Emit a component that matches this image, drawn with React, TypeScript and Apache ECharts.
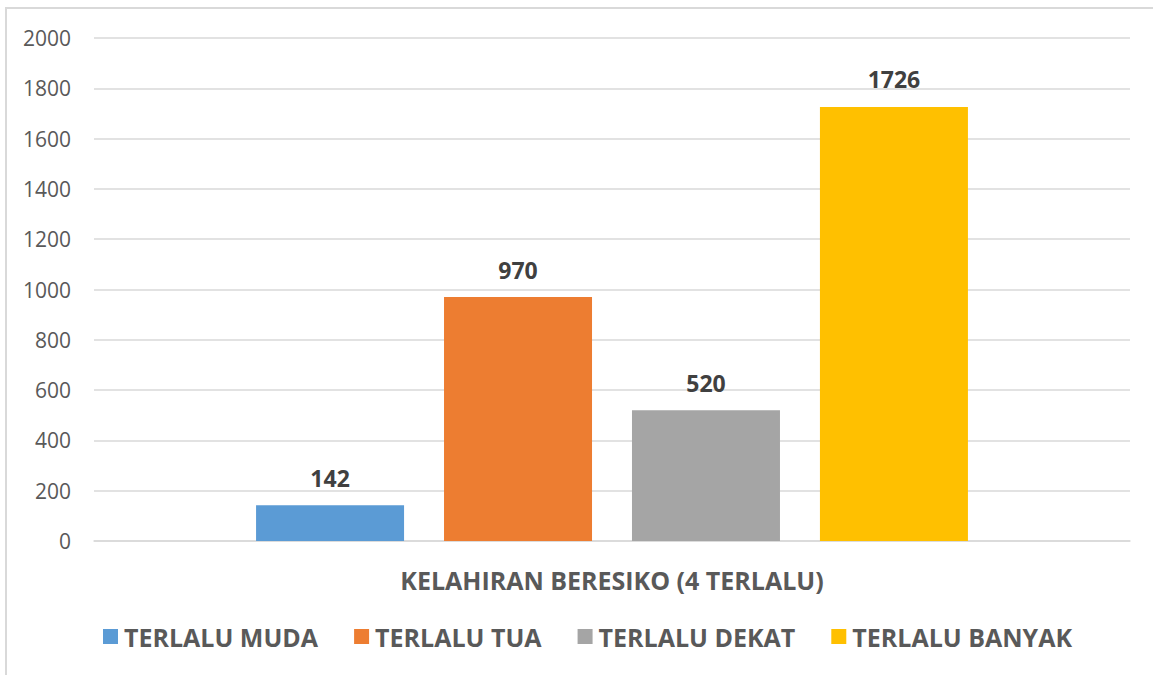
import React, { useEffect, useRef } from "react";
import * as echarts from "echarts";

const categories = ["KELAHIRAN BERESIKO (4 TERLALU)"];
const seriesNames = ["TERLALU MUDA", "TERLALU TUA", "TERLALU DEKAT", "TERLALU BANYAK"];
const seriesValues = [[142], [970], [520], [1726]];
const seriesColors = ["#5B9BD5", "#ED7D31", "#A5A5A5", "#FFC000"];
const yTicks = { min: 0, max: 2000, interval: 200 };

const FONT = "'Open Sans', 'Noto Sans', sans-serif";

export default function App() {
  const ref = useRef<HTMLDivElement>(null);
  useEffect(() => {
    if (!ref.current) return;
    const chart = echarts.init(ref.current, null, { renderer: "svg" });
    chart.setOption({
      animation: false,
      backgroundColor: "#ffffff",
      textStyle: { fontFamily: FONT },
      graphic: [
        {
          type: "rect",
          shape: { x: 6, y: 8, width: 1200, height: 700 },
          style: { fill: "none", stroke: "#D9D9D9", lineWidth: 2 },
          silent: true,
          z: -1,
        },
      ],
      grid: { left: 94, right: 23, top: 38, bottom: 134, containLabel: false },
      legend: {
        left: 103,
        top: 624,
        padding: 0,
        icon: "rect",
        itemWidth: 15,
        itemHeight: 15,
        itemGap: 36,
        data: seriesNames,
        textStyle: { color: "#595959", fontSize: 25, fontWeight: "bold", fontFamily: FONT, padding: [0, 0, 0, 1] },
      },
      xAxis: {
        type: "category",
        data: categories,
        axisLine: { show: true, lineStyle: { color: "#D9D9D9", width: 1.5 } },
        axisTick: { show: false },
        axisLabel: { color: "#595959", fontSize: 25, fontWeight: "bold", margin: 26, fontFamily: FONT },
      },
      yAxis: {
        type: "value",
        min: yTicks.min,
        max: yTicks.max,
        interval: yTicks.interval,
        axisLine: { show: false },
        axisTick: { show: false },
        splitLine: { lineStyle: { color: "#D9D9D9", width: 1.5 } },
        axisLabel: {
          color: "#595959",
          fontSize: 21,
          margin: 23,
          fontFamily: FONT,
          formatter: (v: number) => String(v),
        },
      },
      series: seriesNames.map((name, i) => ({
        name,
        type: "bar",
        data: seriesValues[i],
        barWidth: 148,
        barGap: "27%",
        itemStyle: { color: seriesColors[i] },
        label: {
          show: true,
          position: "top",
          distance: 16,
          color: "#404040",
          fontSize: 23,
          fontWeight: "bold",
          fontFamily: FONT,
        },
      })),
    });
    return () => chart.dispose();
  }, []);
  return (
    <div
      ref={ref}
      style={{ position: "fixed", left: 0, top: 0, width: 1153, height: 675 }}
    />
  );
}
